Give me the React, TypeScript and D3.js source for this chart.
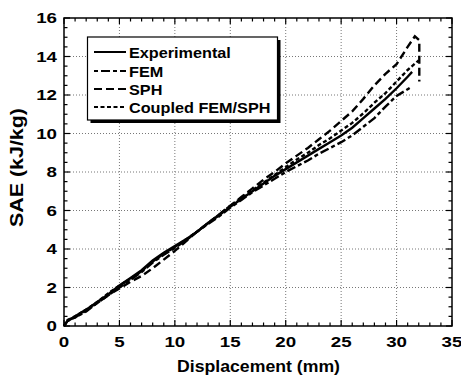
import React from "react";
import * as d3 from "d3";

const xTicks = [0, 5, 10, 15, 20, 25, 30, 35];
const yTicks = [0, 2, 4, 6, 8, 10, 12, 14, 16];

const baseX = [0, 0.3, 1, 2, 3, 4, 5, 6, 7, 8, 9, 10, 11, 12, 13, 14, 15, 16, 17, 18, 19, 20, 21, 22, 23, 24, 25, 26, 27, 28, 29, 30, 31];

const expX = [...baseX, 31.4];
const expY = [0, 0.25, 0.5, 0.85, 1.25, 1.65, 2.1, 2.5, 2.9, 3.4, 3.8, 4.15, 4.5, 4.9, 5.35, 5.75, 6.2, 6.6, 7.0, 7.4, 7.8, 8.15, 8.5, 8.85, 9.2, 9.55, 9.9, 10.3, 10.8, 11.3, 11.8, 12.35, 12.95, 13.2];

const femX = [...baseX, 31.4];
const femY = [0, 0.3, 0.45, 0.75, 1.2, 1.6, 2.0, 2.4, 2.8, 3.3, 3.7, 4.05, 4.45, 4.9, 5.3, 5.7, 6.15, 6.55, 6.95, 7.3, 7.65, 8.0, 8.3, 8.6, 8.95, 9.25, 9.55, 9.9, 10.35, 10.8, 11.4, 11.95, 12.3, 12.45];

const sphX = [...baseX, 31.65, 32.05, 32.05];
const sphY = [0, 0.25, 0.45, 0.8, 1.2, 1.6, 1.95, 2.3, 2.6, 3.0, 3.45, 3.9, 4.4, 4.9, 5.35, 5.8, 6.25, 6.7, 7.15, 7.6, 8.0, 8.45, 8.85, 9.25, 9.7, 10.15, 10.65, 11.15, 11.8, 12.5, 13.1, 13.6, 14.5, 15.05, 14.85, 12.7];

const cplX = [...baseX, 32];
const cplY = [0, 0.3, 0.5, 0.85, 1.25, 1.7, 2.1, 2.45, 2.85, 3.35, 3.75, 4.1, 4.5, 4.9, 5.35, 5.8, 6.25, 6.65, 7.05, 7.45, 7.85, 8.25, 8.65, 9.0, 9.4, 9.75, 10.15, 10.55, 11.05, 11.6, 12.1, 12.7, 13.3, 13.8];

const seriesNames = ["Experimental", "FEM", "SPH", "Coupled FEM/SPH"];
const dashes = ["", "4,3,9,3", "8,4", "4,2.5"];

const FONT = "'Liberation Sans', Arial, sans-serif";

export default function App() {
  const L = 64, R = 452, T = 18, B = 326;
  const x = d3.scaleLinear().domain([0, 35]).range([L, R]);
  const y = d3.scaleLinear().domain([0, 16]).range([B, T]);
  const line = d3.line<[number, number]>().x((d) => x(d[0])).y((d) => y(d[1])).curve(d3.curveLinear);

  const data: [number[], number[]][] = [
    [expX, expY],
    [femX, femY],
    [sphX, sphY],
    [cplX, cplY],
  ];

  const xMinor = d3.range(0, 35.01, 1);
  const yMinor = d3.range(0, 16.01, 0.5);

  const lg = { x: 87.5, y: 37, w: 190, h: 83 };
  const rowY = [52, 71, 89, 107];

  return (
    <svg width={461} height={378} style={{ position: "absolute", left: 0, top: 0, background: "#fff" }}>
      {xTicks.slice(1, -1).map((t) => (
        <line key={"gx" + t} x1={x(t)} x2={x(t)} y1={T} y2={B} stroke="#777" strokeWidth={1} strokeDasharray="1,2" />
      ))}
      {yTicks.slice(1, -1).map((t) => (
        <line key={"gy" + t} x1={L} x2={R} y1={y(t)} y2={y(t)} stroke="#777" strokeWidth={1} strokeDasharray="1,2" />
      ))}
      {xMinor.map((t) => {
        const len = t % 5 === 0 ? 6 : 3.5;
        return (
          <g key={"xm" + t}>
            <line x1={x(t)} x2={x(t)} y1={B} y2={B - len} stroke="#000" strokeWidth={1.2} />
            <line x1={x(t)} x2={x(t)} y1={T} y2={T + len} stroke="#000" strokeWidth={1.2} />
          </g>
        );
      })}
      {yMinor.map((t) => {
        const len = t % 2 === 0 ? 6 : 3.5;
        return (
          <g key={"ym" + t}>
            <line x1={L} x2={L + len} y1={y(t)} y2={y(t)} stroke="#000" strokeWidth={1.2} />
            <line x1={R} x2={R - len} y1={y(t)} y2={y(t)} stroke="#000" strokeWidth={1.2} />
          </g>
        );
      })}
      <rect x={L} y={T} width={R - L} height={B - T} fill="none" stroke="#000" strokeWidth={1.5} />
      {data.map(([xs, ys], i) => (
        <path
          key={"s" + i}
          d={line(xs.map((v, j) => [v, ys[j]] as [number, number])) || ""}
          fill="none"
          stroke="#000"
          strokeWidth={2.4}
          strokeDasharray={dashes[i] || undefined}
        />
      ))}
      {xTicks.map((t) => (
        <text
          key={"xl" + t}
          transform={`translate(${x(t)},347) scale(1.25,1)`}
          textAnchor="middle"
          fontFamily={FONT}
          fontWeight="bold"
          fontSize={15}
        >
          {t}
        </text>
      ))}
      {yTicks.map((t) => (
        <text
          key={"yl" + t}
          transform={`translate(57,${y(t) + 5.3}) scale(1.25,1)`}
          textAnchor="end"
          fontFamily={FONT}
          fontWeight="bold"
          fontSize={15}
        >
          {t}
        </text>
      ))}
      <text
        x={177}
        y={372}
        fontFamily={FONT}
        fontWeight="bold"
        fontSize={17}
        textLength={163}
        lengthAdjust="spacingAndGlyphs"
      >
        Displacement (mm)
      </text>
      <text
        transform={`translate(23,227) rotate(-90)`}
        fontFamily={FONT}
        fontWeight="bold"
        fontSize={19}
        textLength={119}
        lengthAdjust="spacingAndGlyphs"
      >
        SAE (kJ/kg)
      </text>
      <rect x={lg.x + 3} y={lg.y + 3} width={lg.w} height={lg.h} fill="#000" />
      <rect x={lg.x} y={lg.y} width={lg.w} height={lg.h} fill="#fff" stroke="#000" strokeWidth={1.2} />
      {seriesNames.map((n, i) => (
        <g key={"lg" + i}>
          <line
            x1={94}
            x2={126}
            y1={rowY[i]}
            y2={rowY[i]}
            stroke="#000"
            strokeWidth={2}
            strokeDasharray={dashes[i] || undefined}
          />
          <text
            transform={`translate(129,${rowY[i] + 5.5}) scale(1.12,1)`}
            fontFamily={FONT}
            fontWeight="bold"
            fontSize={14.5}
          >
            {n}
          </text>
        </g>
      ))}
    </svg>
  );
}
